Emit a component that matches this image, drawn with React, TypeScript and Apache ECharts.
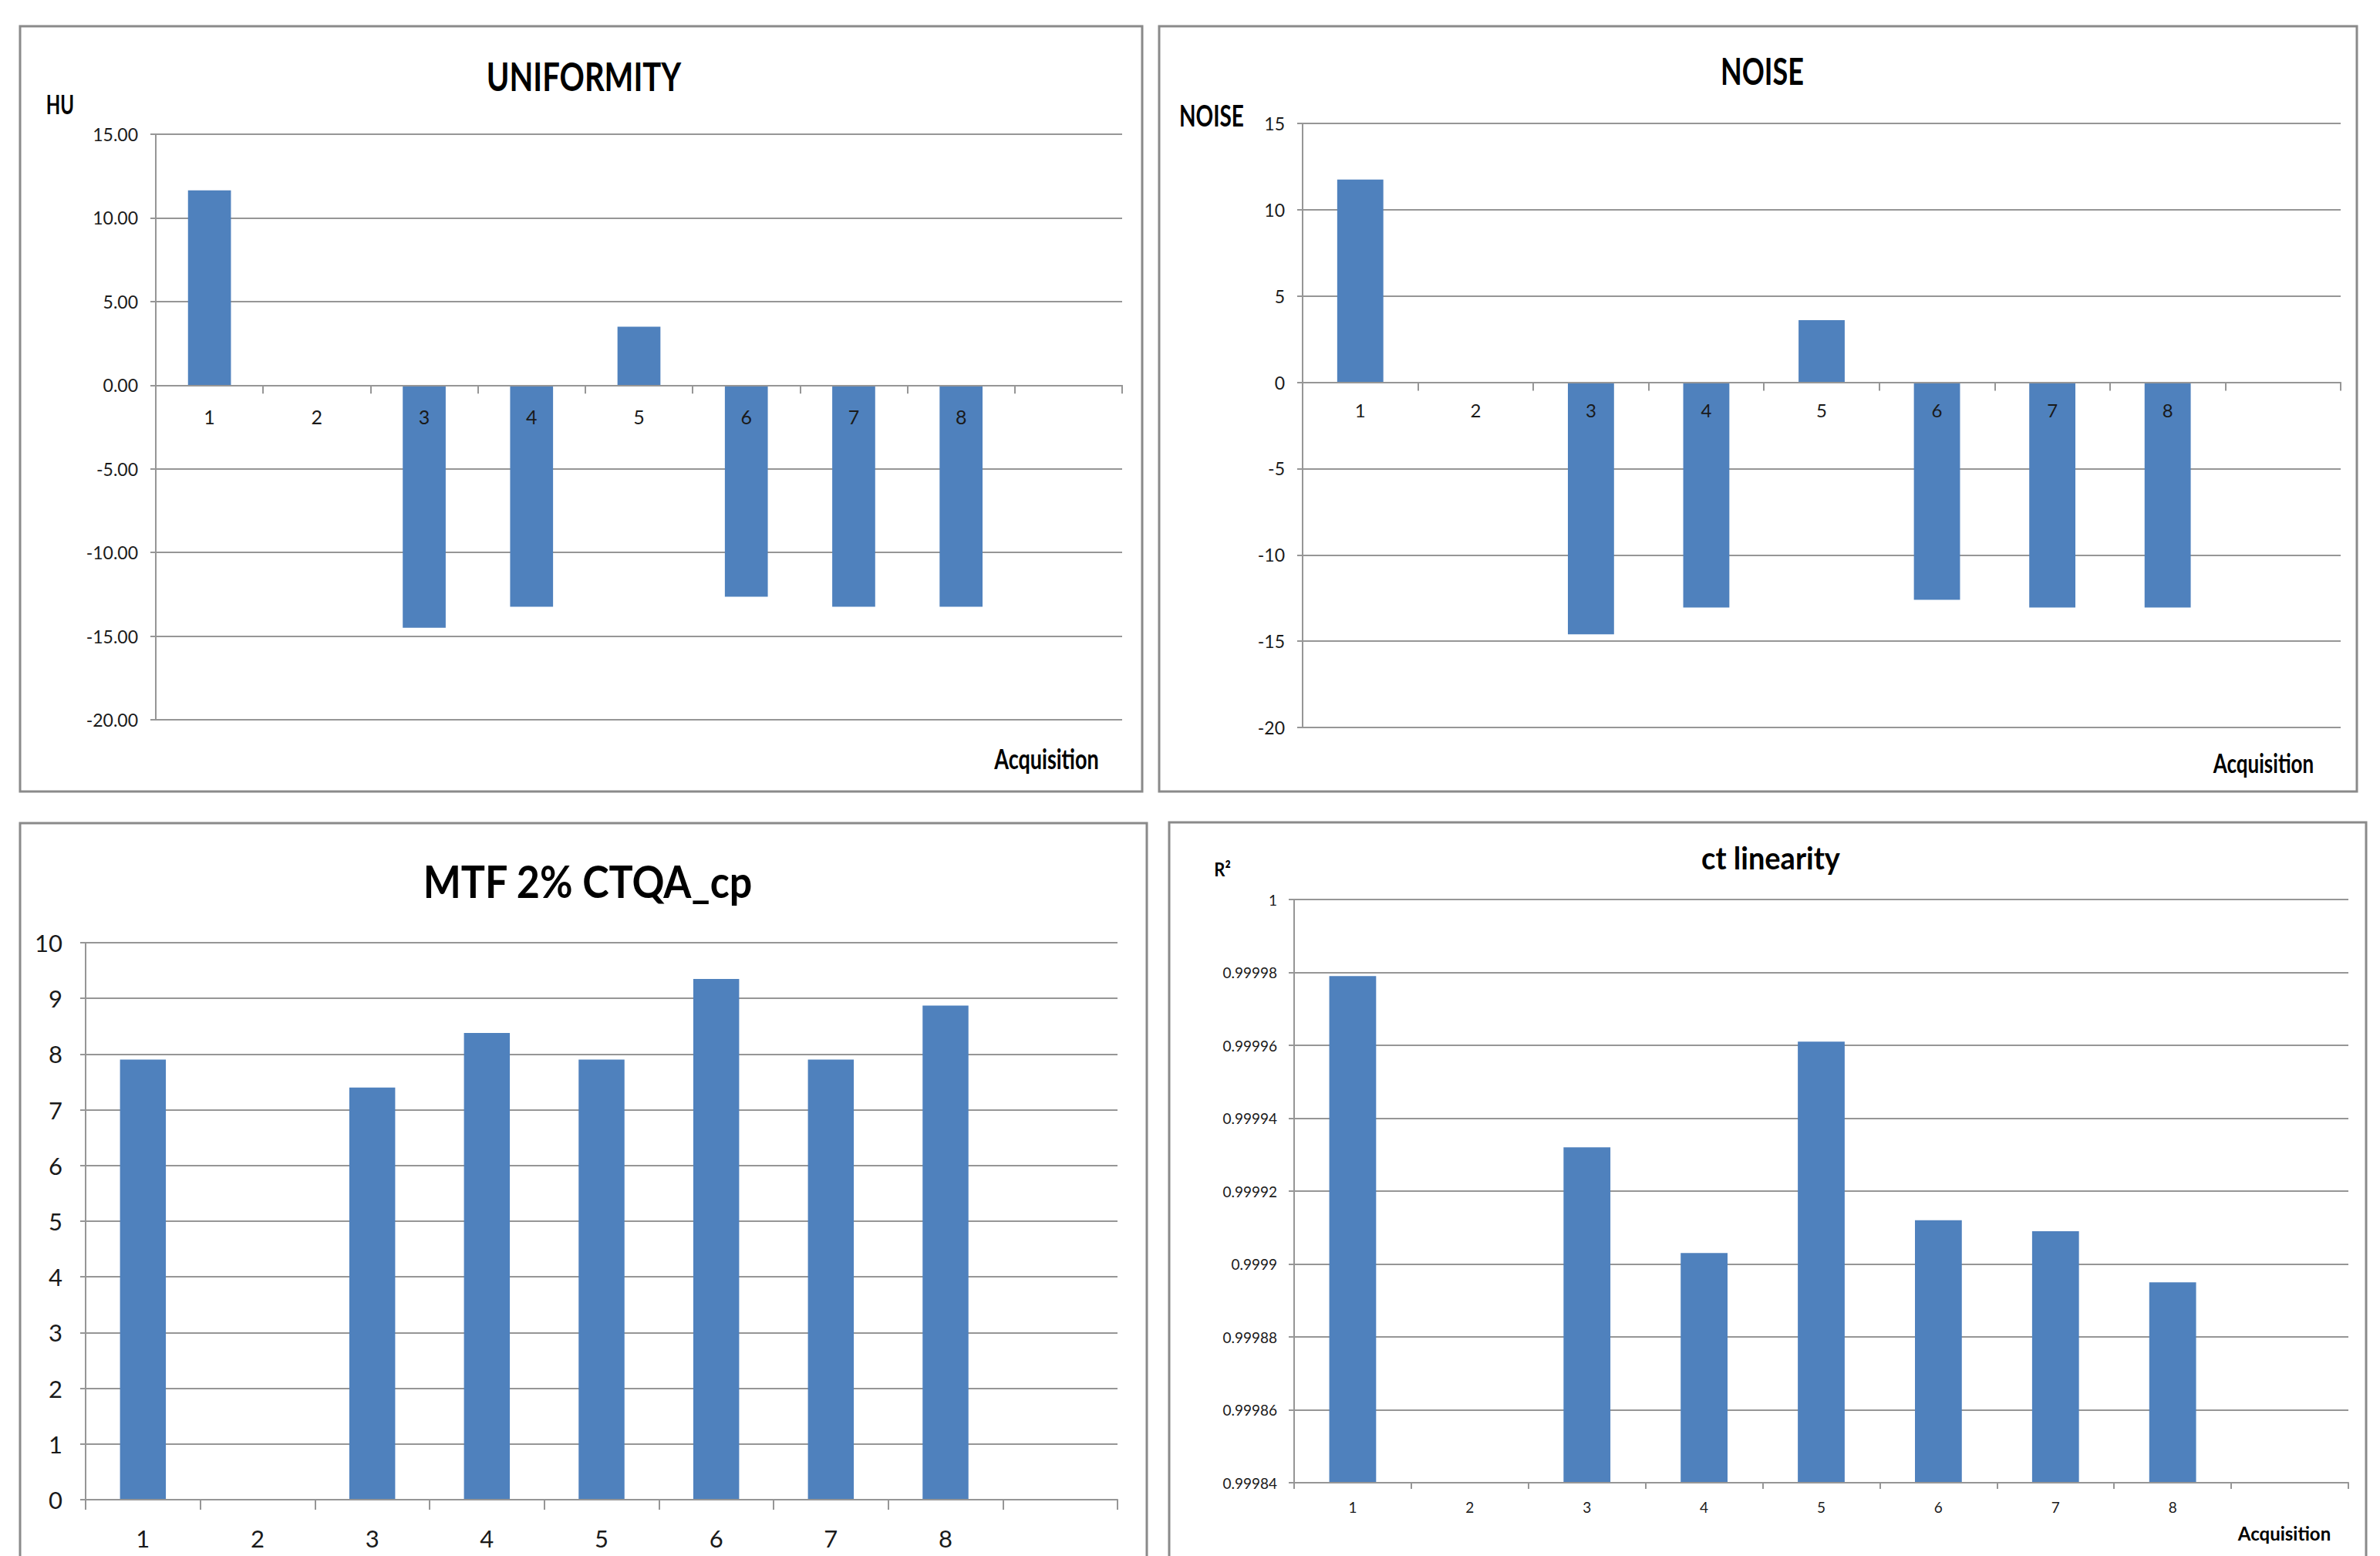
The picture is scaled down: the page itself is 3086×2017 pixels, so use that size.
import React, { useEffect, useRef } from "react";
import * as echarts from "echarts";

const categories = ["1", "2", "3", "4", "5", "6", "7", "8", ""];
const uniformity = [11.65, null, -14.5, -13.25, 3.5, -12.65, -13.25, -13.25];
const noise = [11.75, null, -14.6, -13.05, 3.6, -12.6, -13.05, -13.05];
const mtf = [7.9, null, 7.4, 8.38, 7.9, 9.35, 7.9, 8.87];
const ctLinearity = [0.999979, null, 0.999932, 0.999903, 0.999961, 0.999912, 0.999909, 0.999895];

const uniformityRange = { min: -20, max: 15, interval: 5 };
const noiseRange = { min: -20, max: 15, interval: 5 };
const mtfRange = { min: 0, max: 10, interval: 1 };
const ctRange = { min: 0.99984, max: 1, interval: 0.00002 };

const FONT = "Lato, 'Open Sans', sans-serif";
const BAR = "#4F81BD";
const GRID_LINE = "#969696";
const TEXT = "#1a1a1a";

const grids = [
  { left: 202, top: 174, width: 1253, height: 759 },
  { left: 1689, top: 160, width: 1346, height: 783 },
  { left: 111, top: 1222, width: 1338, height: 722 },
  { left: 1678, top: 1166, width: 1367, height: 756 },
];

// offset (px) that brings a bottom category axis up to the value 0 line
function zeroOffset(gridIdx: number, r: { min: number; max: number }) {
  const h = grids[gridIdx].height;
  if (r.min >= 0 || r.max <= 0) return 0;
  return -(h * (0 - r.min)) / (r.max - r.min);
}

function xAxisFor(gridIndex: number, fontSize: number, margin: number, tickLen: number, offset: number) {
  return {
    type: "category",
    gridIndex,
    data: categories,
    z: 5,
    offset,
    axisLine: { show: true, onZero: false, lineStyle: { color: GRID_LINE, width: 2 } },
    axisTick: { show: true, interval: 0, length: tickLen, lineStyle: { color: GRID_LINE, width: 2 } },
    axisLabel: { interval: 0, fontSize, fontFamily: FONT, color: TEXT, margin },
    splitLine: { show: false },
  };
}

function yAxisFor(gridIndex: number, r: { min: number; max: number; interval: number }, fontSize: number, margin: number, formatter: (v: number) => string, extra: any = {}) {
  return {
    type: "value",
    gridIndex,
    min: r.min,
    max: r.max,
    interval: r.interval,
    axisLine: { show: true, lineStyle: { color: GRID_LINE, width: 2 } },
    axisTick: { show: true, length: 7, lineStyle: { color: GRID_LINE, width: 2 } },
    axisLabel: { fontSize, fontFamily: FONT, color: TEXT, margin, formatter },
    splitLine: { show: true, lineStyle: { color: GRID_LINE, width: 2 } },
    ...extra,
  };
}

function barSeries(idx: number, data: (number | null)[]) {
  return {
    type: "bar",
    xAxisIndex: idx,
    yAxisIndex: idx,
    data,
    barWidth: "40%",
    clip: true,
    itemStyle: { color: BAR },
  };
}

function txt(text: string, x: number, y: number, fontSize: number, scaleY = 1, bold = true) {
  return {
    type: "text",
    x,
    y,
    scaleY,
    z: 10,
    style: {
      text,
      fill: "#000",
      fontSize,
      fontWeight: bold ? "bold" : "normal",
      fontFamily: FONT,
      align: "center",
      verticalAlign: "middle",
    },
  };
}

function border(x: number, y: number, w: number, h: number) {
  return {
    type: "rect",
    z: 0,
    shape: { x, y, width: w, height: h },
    style: { fill: "none", stroke: "#8a8a8a", lineWidth: 3 },
  };
}

export default function App() {
  const ref = useRef<HTMLDivElement>(null);

  useEffect(() => {
    if (!ref.current) return;
    const chart = echarts.init(ref.current, undefined, { renderer: "svg" });
    const option: any = {
      animation: false,
      backgroundColor: "#ffffff",
      grid: grids,
      xAxis: [
        xAxisFor(0, 25, 28, 11, zeroOffset(0, uniformityRange)),
        xAxisFor(1, 24, 24, 11, zeroOffset(1, noiseRange)),
        xAxisFor(2, 31, 34, 13, 0),
        xAxisFor(3, 19, 22, 8, 0),
      ],
      yAxis: [
        yAxisFor(0, uniformityRange, 23, 23, (v: number) => v.toFixed(2)),
        yAxisFor(1, noiseRange, 23, 23, (v: number) => String(Math.round(v))),
        yAxisFor(2, mtfRange, 31, 30, (v: number) => String(Math.round(v))),
        yAxisFor(3, ctRange, 19, 22, (v: number) => String(parseFloat(v.toFixed(5))), { startValue: ctRange.min }),
      ],
      series: [
        barSeries(0, uniformity),
        barSeries(1, noise),
        barSeries(2, mtf),
        barSeries(3, ctLinearity),
      ],
      graphic: [
        border(26, 34, 1455, 992),
        border(1503, 34, 1553, 992),
        border(26, 1067, 1461, 1000),
        border(1516, 1066, 1552, 1000),
        txt("UNIFORMITY", 757, 98, 40, 1.28),
        txt("HU", 78, 134, 24, 1.45),
        txt("Acquisition", 1357, 983, 27, 1.35),
        txt("NOISE", 2285, 91, 36, 1.35),
        txt("NOISE", 1571, 149, 28, 1.35),
        txt("Acquisition", 2935, 989, 26, 1.35),
        txt("MTF 2% CTQA_cp", 762, 1142, 52, 1.12),
        txt("ct linearity", 2296, 1112, 38, 1.05),
        txt("R²", 1585, 1127, 22, 1.1),
        txt("Acquisition", 2962, 1987, 24, 1.05),
      ],
    };
    chart.setOption(option);
    return () => chart.dispose();
  }, []);

  return (
    <div
      ref={ref}
      style={{ position: "absolute", left: 0, top: 0, width: 3086, height: 2017, background: "#fff" }}
    />
  );
}
